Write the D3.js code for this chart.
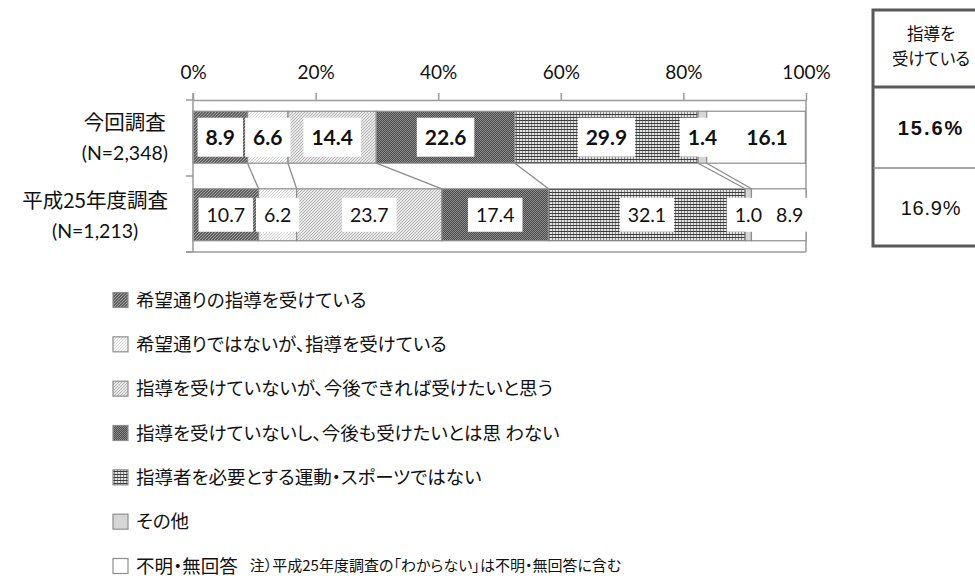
<!DOCTYPE html>
<html>
<head>
<meta charset="utf-8">
<script src="https://cdn.jsdelivr.net/npm/d3@7"></script>
<style>
  html, body { margin: 0; padding: 0; background: #fff; }
  svg { display: block; }
  .jp { font-family: "Noto Sans CJK JP", "Noto Sans", sans-serif; font-feature-settings: "palt" 1; }
  .num { font-family: Lato, "Open Sans", sans-serif; }
</style>
</head>
<body>
<svg id="chart" width="975" height="579"></svg>
<script>
// Survey rows and their sample sizes
const categories = ["今回調査", "平成25年度調査"];
const sampleSizes = ["(N=2,348)", "(N=1,213)"];

// Response categories (stack order, left to right)
const seriesNames = [
  "希望通りの指導を受けている",
  "希望通りではないが、指導を受けている",
  "指導を受けていないが、今後できれば受けたいと思う",
  "指導を受けていないし、今後も受けたいとは思 わない",
  "指導者を必要とする運動・スポーツではない",
  "その他",
  "不明・無回答"
];

// Percentages per survey
const currentSurvey = [8.9, 6.6, 14.4, 22.6, 29.9, 1.4, 16.1];
const previousSurvey = [10.7, 6.2, 23.7, 17.4, 32.1, 1.0, 8.9];

// Value axis ticks (percent)
const tickValues = [0, 20, 40, 60, 80, 100];

// Side table: share receiving coaching
const tableHeader = ["指導を", "受けている"];
const tableValues = ["15.6%", "16.9%"];

const footNote = "注）平成25年度調査の「わからない」は不明・無回答に含む";

const svg = d3.select("#chart");
const defs = svg.append("defs");

// ---- fill textures for each response category ----
function dotPattern(id, size, bg, fg, cells) {
  const p = defs.append("pattern").attr("id", id).attr("patternUnits", "userSpaceOnUse")
    .attr("width", size).attr("height", size);
  p.append("rect").attr("width", size).attr("height", size).attr("fill", bg);
  cells.forEach(c => p.append("rect").attr("x", c[0]).attr("y", c[1]).attr("width", 1).attr("height", 1).attr("fill", fg));
}
dotPattern("pat0", 3, "#5e5e5e", "#a6a6a6", [[0, 0], [2, 1], [1, 2]]);
dotPattern("pat1", 3, "#fbfbfb", "#d2d2d2", [[0, 0], [2, 1], [1, 2]]);
(function () {
  const p = defs.append("pattern").attr("id", "pat2").attr("patternUnits", "userSpaceOnUse")
    .attr("width", 3).attr("height", 3);
  p.append("rect").attr("width", 3).attr("height", 3).attr("fill", "#e8e8e8");
  [[2, 0], [1, 1], [0, 2]].forEach(c => p.append("rect").attr("x", c[0]).attr("y", c[1])
    .attr("width", 1).attr("height", 1).attr("fill", "#b4b4b4"));
})();
dotPattern("pat3", 2, "#4a4a4a", "#8c8c8c", [[0, 0], [1, 1]]);
(function () {
  const p = defs.append("pattern").attr("id", "pat4").attr("patternUnits", "userSpaceOnUse")
    .attr("width", 3).attr("height", 3);
  p.append("rect").attr("width", 3).attr("height", 3).attr("fill", "#e4e4e4");
  p.append("rect").attr("x", 0).attr("y", 0).attr("width", 1).attr("height", 3).attr("fill", "#8a8a8a");
  p.append("rect").attr("x", 0).attr("y", 0).attr("width", 3).attr("height", 1).attr("fill", "#3c3c3c");
})();
const fills = ["url(#pat0)", "url(#pat1)", "url(#pat2)", "url(#pat3)", "url(#pat4)", "#d6d6d6", "#ffffff"];

// ---- scales ----
const x = d3.scaleLinear().domain([0, 100]).range([193, 806]);
const y = d3.scaleBand().domain(categories).range([100, 252]).paddingInner(0.33).paddingOuter(0.145);

const rows = [currentSurvey, previousSurvey].map((vals, r) => {
  let acc = 0;
  return vals.map((v, i) => {
    const seg = { row: r, cat: categories[r], i, v, x0: acc, x1: acc + v };
    acc += v;
    return seg;
  });
});

const axisColor = "#9a9a9a";

// ---- plot frame ----
const frame = svg.append("g");
frame.append("line").attr("x1", x(100)).attr("x2", x(100)).attr("y1", 100).attr("y2", 252)
  .attr("stroke", axisColor).attr("stroke-width", 1.5);
frame.append("line").attr("x1", 186).attr("x2", x(100)).attr("y1", 252).attr("y2", 252)
  .attr("stroke", axisColor).attr("stroke-width", 1.5);

// ---- connector lines between the two stacks ----
const links = svg.append("g");
for (let i = 0; i < seriesNames.length - 1; i++) {
  const a = rows[0][i], b = rows[1][i];
  links.append("line")
    .attr("x1", x(a.x1)).attr("y1", y(categories[0]) + y.bandwidth())
    .attr("x2", x(b.x1)).attr("y2", y(categories[1]))
    .attr("stroke", "#8c8c8c").attr("stroke-width", 1.3);
}

// ---- stacked segments ----
const bars = svg.append("g");
rows.forEach(row => {
  bars.selectAll(null).data(row).join("rect")
    .attr("x", d => x(d.x0))
    .attr("y", d => y(d.cat))
    .attr("width", d => x(d.x1) - x(d.x0))
    .attr("height", y.bandwidth())
    .attr("fill", d => fills[d.i])
    .attr("stroke", "#8e8e8e")
    .attr("stroke-width", 1.2);
});

// ---- value axis on top ----
const xAxis = d3.axisTop(x).tickValues(tickValues).tickFormat(d => d + "%").tickSize(7).tickSizeOuter(0).tickPadding(14);
const gx = svg.append("g").attr("transform", "translate(0,100)").call(xAxis);
gx.select(".domain").attr("stroke", axisColor).attr("stroke-width", 1.5);
gx.selectAll(".tick line").attr("stroke", axisColor).attr("stroke-width", 1.5);
gx.selectAll(".tick text").attr("class", "num").attr("font-size", 19).attr("fill", "#111");

// ---- category axis on the left ----
const gy = svg.append("g");
gy.append("line").attr("x1", x(0)).attr("x2", x(0)).attr("y1", 93).attr("y2", 252)
  .attr("stroke", axisColor).attr("stroke-width", 1.5);
const edges = [100, y(categories[1]) - (y.step() - y.bandwidth()) / 2, 252];
edges.forEach(e => gy.append("line").attr("x1", 186).attr("x2", x(0)).attr("y1", e).attr("y2", e)
  .attr("stroke", axisColor).attr("stroke-width", 1.5));

// row titles: block right-aligned, lines centred within it
categories.forEach((c, r) => {
  const cy = y(c) + y.bandwidth() / 2;
  const g = svg.append("g").attr("class", "jp");
  const t1 = g.append("text").text(c).attr("font-size", 20.5).attr("fill", "#111")
    .attr("text-anchor", "middle").attr("y", cy - 7);
  const t2 = g.append("text").text(sampleSizes[r]).attr("class", "num").attr("font-size", 19.5).attr("fill", "#111")
    .attr("text-anchor", "middle").attr("y", cy + 23);
  const w = Math.max(t1.node().getComputedTextLength(), t2.node().getComputedTextLength());
  const cx = 168 - w / 2;
  t1.attr("x", cx); t2.attr("x", cx);
});

// ---- value labels on white boxes ----
const labels = svg.append("g");
rows.forEach(row => {
  row.forEach(d => {
    const bold = d.row === 0;
    const nudge = d.i === seriesNames.length - 1 ? 11 : 0;
    const cx = x((d.x0 + d.x1) / 2) + nudge;
    const cy = y(d.cat) + y.bandwidth() / 2;
    const g = labels.append("g");
    const t = g.append("text").attr("class", "num")
      .text(d.v.toFixed(1))
      .attr("x", cx).attr("y", cy)
      .attr("dy", "0.36em")
      .attr("text-anchor", "middle")
      .attr("font-size", bold ? 21 : 19.5)
      .attr("font-weight", bold ? 700 : 400)
      .attr("fill", "#111");
    const w = t.node().getComputedTextLength();
    const padX = 8, h = bold ? 39 : 34;
    g.insert("rect", "text")
      .attr("x", cx - w / 2 - padX).attr("y", cy - h / 2)
      .attr("width", w + 2 * padX).attr("height", h)
      .attr("fill", "#fff");
  });
});

// ---- legend ----
const legend = svg.append("g").attr("class", "jp");
const legendY = d3.scalePoint().domain(seriesNames).range([300, 566]);
let lastEnd = 0;
seriesNames.forEach((name, i) => {
  const cy = legendY(name);
  legend.append("rect").attr("x", 113).attr("y", cy - 7.5).attr("width", 15).attr("height", 15)
    .attr("fill", fills[i]).attr("stroke", "#8e8e8e").attr("stroke-width", 1.2);
  const t = legend.append("text").text(name).attr("x", 136).attr("y", cy).attr("dy", "0.36em")
    .attr("font-size", 18.5).attr("fill", "#111");
  lastEnd = 136 + t.node().getComputedTextLength();
});
// footnote follows the last legend entry on the same line
legend.append("text").text(footNote).attr("x", Math.max(234, lastEnd + 12))
  .attr("y", legendY(seriesNames[6])).attr("dy", "0.36em")
  .attr("font-size", 15).attr("fill", "#111");

// ---- side table ----
const tbl = svg.append("g").attr("class", "jp");
const tx = 873, tw = 115, tTop = 10, rowLines = [87, 168], tBottom = 246;
tbl.append("rect").attr("x", tx).attr("y", tTop).attr("width", tw).attr("height", tBottom - tTop)
  .attr("fill", "#fff").attr("stroke", "#595959").attr("stroke-width", 3);
tbl.append("line").attr("x1", tx).attr("x2", tx + tw).attr("y1", rowLines[0]).attr("y2", rowLines[0])
  .attr("stroke", "#595959").attr("stroke-width", 3);
tbl.append("line").attr("x1", tx).attr("x2", tx + tw).attr("y1", rowLines[1]).attr("y2", rowLines[1])
  .attr("stroke", "#8a8a8a").attr("stroke-width", 1.5);
const tcx = 931;
tableHeader.forEach((h, i) => {
  tbl.append("text").text(h).attr("x", tcx).attr("y", 34 + i * 25).attr("dy", "0.36em")
    .attr("text-anchor", "middle").attr("font-size", 16.5).attr("fill", "#111");
});
tableValues.forEach((v, i) => {
  const cy = i === 0 ? 128 : 208;
  tbl.append("text").text(v).attr("x", tcx).attr("y", cy).attr("dy", "0.36em")
    .attr("text-anchor", "middle").attr("font-size", 20).attr("letter-spacing", i === 0 ? 2 : 0.8)
    .attr("font-family", "'Liberation Sans', Arial, sans-serif")
    .attr("font-weight", i === 0 ? 700 : 400).attr("fill", "#111");
});
</script>
</body>
</html>
